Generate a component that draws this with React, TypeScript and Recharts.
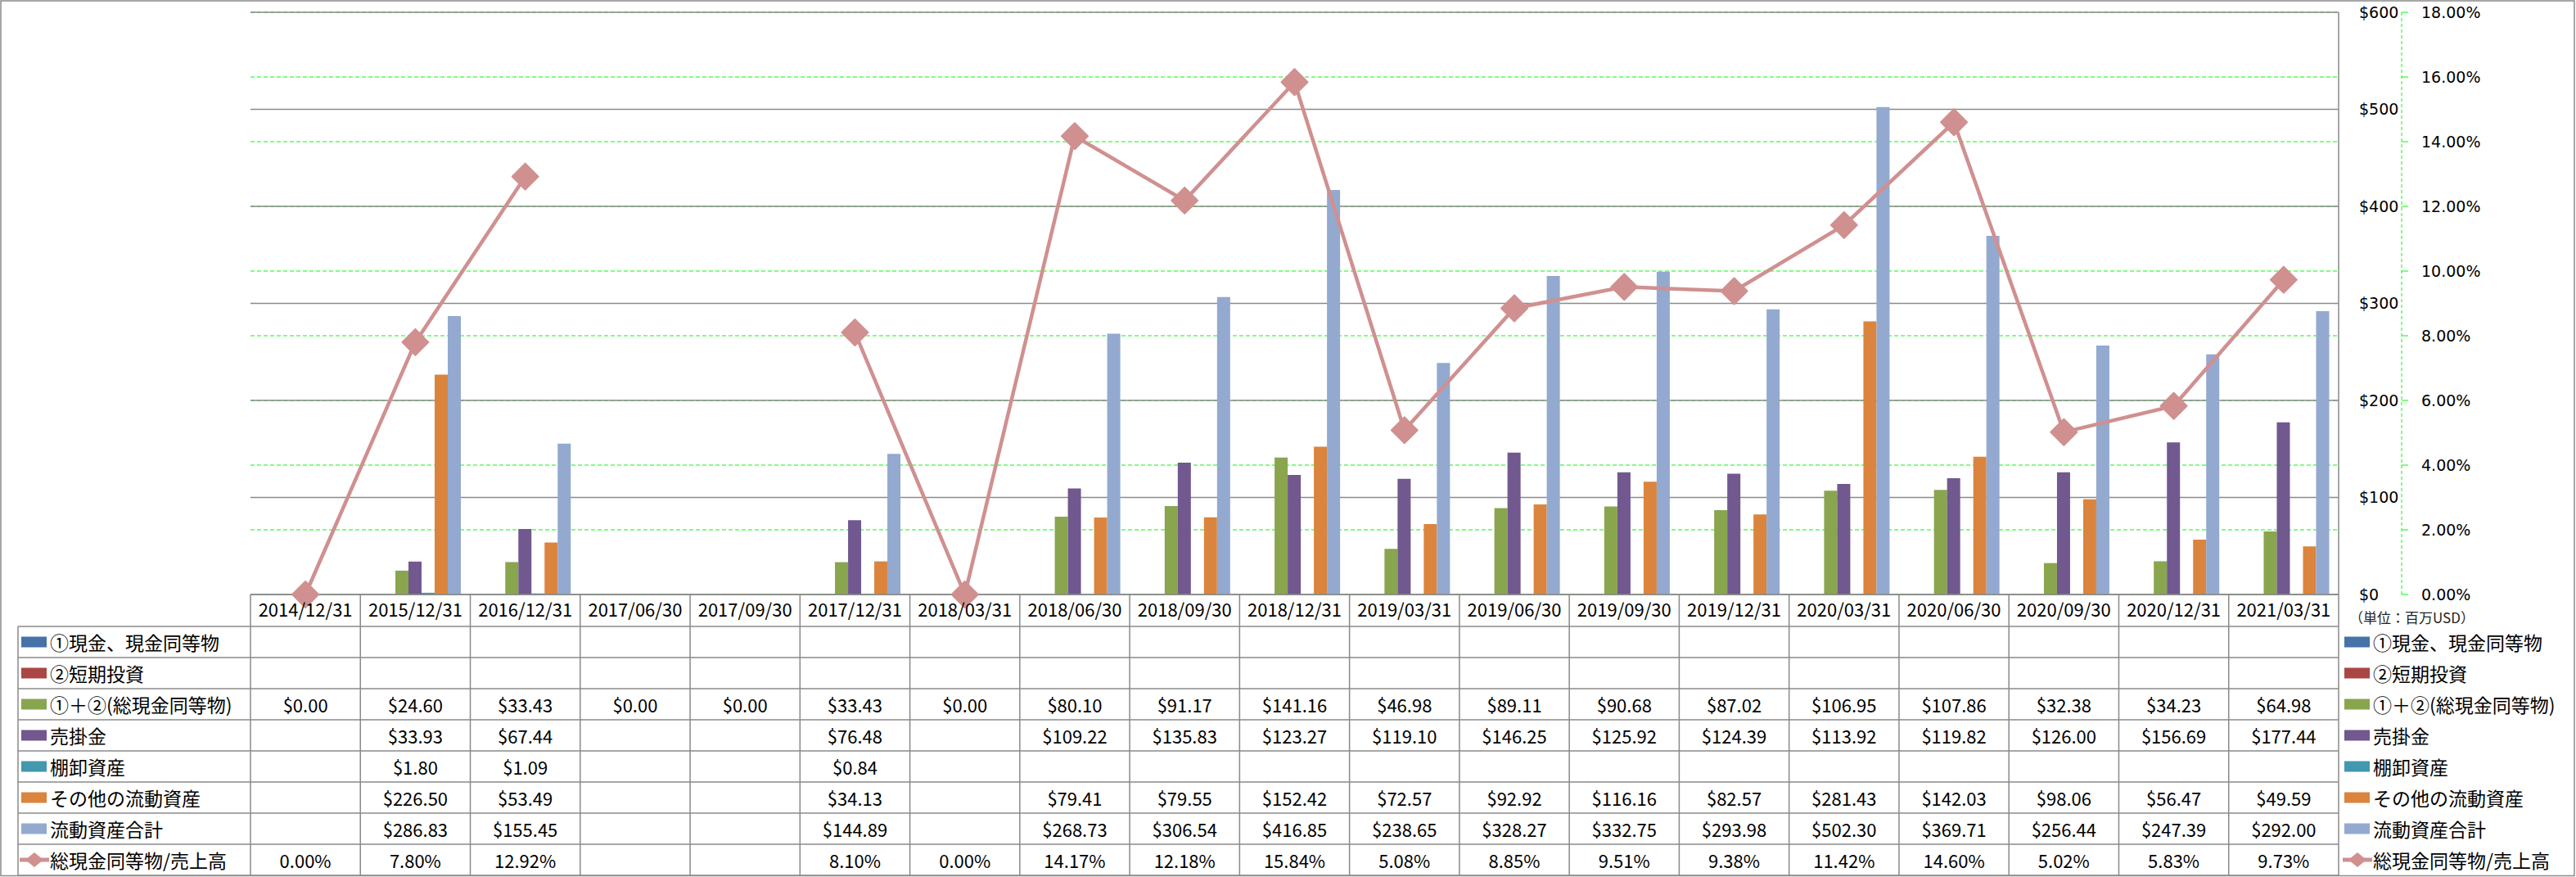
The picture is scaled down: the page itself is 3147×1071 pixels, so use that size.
import React from "react";
import { ComposedChart, Bar, Line, XAxis, YAxis, CartesianGrid } from "recharts";

// categories
const dates = [
  "2014/12/31", "2015/12/31", "2016/12/31", "2017/06/30", "2017/09/30",
  "2017/12/31", "2018/03/31", "2018/06/30", "2018/09/30", "2018/12/31",
  "2019/03/31", "2019/06/30", "2019/09/30", "2019/12/31", "2020/03/31",
  "2020/06/30", "2020/09/30", "2020/12/31", "2021/03/31",
];

// 単位: 百万USD
const cashItems = [null, null, null, null, null, null, null, null, null, null, null, null, null, null, null, null, null, null, null];
const shortTermInvest = [null, null, null, null, null, null, null, null, null, null, null, null, null, null, null, null, null, null, null];
const totalCash = [0.0, 24.6, 33.43, 0.0, 0.0, 33.43, 0.0, 80.1, 91.17, 141.16, 46.98, 89.11, 90.68, 87.02, 106.95, 107.86, 32.38, 34.23, 64.98];
const receivables = [null, 33.93, 67.44, null, null, 76.48, null, 109.22, 135.83, 123.27, 119.1, 146.25, 125.92, 124.39, 113.92, 119.82, 126.0, 156.69, 177.44];
const inventory = [null, 1.8, 1.09, null, null, 0.84, null, null, null, null, null, null, null, null, null, null, null, null, null];
const otherCurrent = [null, 226.5, 53.49, null, null, 34.13, null, 79.41, 79.55, 152.42, 72.57, 92.92, 116.16, 82.57, 281.43, 142.03, 98.06, 56.47, 49.59];
const totalCurrent = [null, 286.83, 155.45, null, null, 144.89, null, 268.73, 306.54, 416.85, 238.65, 328.27, 332.75, 293.98, 502.3, 369.71, 256.44, 247.39, 292.0];
// %
const cashToSales = [0.0, 7.8, 12.92, null, null, 8.1, 0.0, 14.17, 12.18, 15.84, 5.08, 8.85, 9.51, 9.38, 11.42, 14.6, 5.02, 5.83, 9.73];

const usdTicks = [0, 100, 200, 300, 400, 500, 600];
const pctTicks = [0, 2, 4, 6, 8, 10, 12, 14, 16, 18];

const series = [
  { key: "cash", name: "①現金、現金同等物", color: "#4572A7", values: cashItems },
  { key: "short", name: "②短期投資", color: "#AA4643", values: shortTermInvest },
  { key: "total", name: "①＋②(総現金同等物)", color: "#89A54E", values: totalCash },
  { key: "recv", name: "売掛金", color: "#71588F", values: receivables },
  { key: "inv", name: "棚卸資産", color: "#4198AF", values: inventory },
  { key: "other", name: "その他の流動資産", color: "#DB843D", values: otherCurrent },
  { key: "cur", name: "流動資産合計", color: "#93A9CF", values: totalCurrent },
];
const ratioName = "総現金同等物/売上高";
const unitLabel = "（単位：百万USD）";

// axis ids: "a" = USD (next to the plot), "b" = percent (outer)
const USD = "a";
const PCT = "b";

const W = 3147;
const H = 1071;
const PLOT_LEFT = 306;
const PLOT_RIGHT = 2857;
const PLOT_TOP = 15;
const BASE_Y = 726;
const HEADER_H = 39;
const ROW_H = 38;
const USD_AXIS_W = 77;
const COL_W = (PLOT_RIGHT - PLOT_LEFT) / dates.length;
const FONT = '"Noto Sans CJK JP", "Noto Sans", sans-serif';
const GRID = "#8a8a8a";
const GREEN = "#00ff00";
const LINE = "#D09090";

const data = dates.map((date, i) => {
  const row: any = { date, ratio: cashToSales[i] };
  series.forEach((s) => (row[s.key] = s.values[i]));
  return row;
});

const fmtUsd = (v: number | null) => (v == null ? "" : `$${v.toFixed(2)}`);
const fmtPct = (v: number | null) => (v == null ? "" : `${v.toFixed(2)}%`);
const usdTickFmt = (v: number) => `$${v}`;
const pctTickFmt = (v: number) => `${v.toFixed(2)}%`;
const usdDomain = [0, 600];
const pctDomain = [0, 18];
const axisTick = { fill: "#000", fontSize: 19, fontFamily: "DejaVu Sans" };
const grayAxis = { stroke: GRID, strokeWidth: 1.5 };
const greenAxis = { stroke: GREEN, strokeDasharray: "4 3" };
const greenTick = { stroke: GREEN };

function Diamond(props: any) {
  const { cx, cy, index } = props;
  if (cx == null || cy == null || props.value == null) return <g key={index} />;
  const r = 16;
  return (
    <path
      key={index}
      d={`M${cx},${cy - r}L${cx + r},${cy}L${cx},${cy + r}L${cx - r},${cy}Z`}
      fill={LINE}
      stroke={LINE}
      strokeWidth={2}
      strokeLinejoin="round"
    />
  );
}

function LegendMark({ x, y, color, line }: { x: number; y: number; color: string; line?: boolean }) {
  if (line) {
    return (
      <g>
        <line x1={x - 2} x2={x + 34} y1={y} y2={y} stroke={LINE} strokeWidth={5} />
        <path d={`M${x + 16},${y - 9}L${x + 27},${y}L${x + 16},${y + 9}L${x + 5},${y}Z`} fill={LINE} />
      </g>
    );
  }
  return <rect x={x} y={y - 6.5} width={31} height={13} fill={color} />;
}

function TableOverlay() {
  const rowTop = BASE_Y + HEADER_H;
  const rows = [
    ...series.map((s) => ({ name: s.name, color: s.color, cells: s.values.map(fmtUsd), line: false })),
    { name: ratioName, color: LINE, cells: cashToSales.map(fmtPct), line: true },
  ];
  const bottom = rowTop + rows.length * ROW_H;
  return (
    <svg width={W} height={H} style={{ position: "absolute", left: 0, top: 0, pointerEvents: "none" }}>
      <rect x={1} y={1} width={W - 3} height={H - 2.5} fill="none" stroke={GRID} strokeWidth={1.5} />
      {/* column separators */}
      {dates.map((_, i) => (
        <line key={`v${i}`} x1={PLOT_LEFT + i * COL_W} x2={PLOT_LEFT + i * COL_W} y1={BASE_Y} y2={bottom} stroke={GRID} strokeWidth={1.5} />
      ))}
      <line x1={PLOT_RIGHT} x2={PLOT_RIGHT} y1={BASE_Y} y2={bottom} stroke={GRID} strokeWidth={1.5} />
      <line x1={22} x2={22} y1={rowTop} y2={bottom} stroke={GRID} strokeWidth={1.5} />
      {rows.map((r, k) => (
        <line key={`h${k}`} x1={22} x2={PLOT_RIGHT} y1={rowTop + k * ROW_H} y2={rowTop + k * ROW_H} stroke={GRID} strokeWidth={1.5} />
      ))}
      <line x1={22} x2={PLOT_RIGHT} y1={bottom} y2={bottom} stroke={GRID} strokeWidth={1.5} />
      {rows.map((r, k) => {
        const cy = rowTop + k * ROW_H + ROW_H / 2;
        return (
          <g key={`r${k}`}>
            <LegendMark x={26} y={cy} color={r.color} line={r.line} />
            <text x={61} y={cy} dominantBaseline="central" fontSize={23} fontFamily={FONT} fill="#000">
              {r.name}
            </text>
            {r.cells.map((c, i) => (
              <text
                key={i}
                x={PLOT_LEFT + (i + 0.5) * COL_W}
                y={cy}
                dominantBaseline="central"
                textAnchor="middle"
                fontSize={22}
                fontFamily={FONT}
                fill="#000"
              >
                {c}
              </text>
            ))}
            <LegendMark x={2864} y={cy} color={r.color} line={r.line} />
            <text x={2899} y={cy} dominantBaseline="central" fontSize={23} fontFamily={FONT} fill="#000">
              {r.name}
            </text>
          </g>
        );
      })}
      <text x={2870} y={753} dominantBaseline="central" fontSize={17} fontFamily={FONT} fill="#222">
        {unitLabel}
      </text>
    </svg>
  );
}

export default function App() {
  return (
    <div style={{ position: "absolute", left: 0, top: 0, width: W, height: H, background: "#fff" }}>
      <ComposedChart
        width={W}
        height={H}
        data={data}
        margin={{ top: PLOT_TOP, left: PLOT_LEFT, right: 0, bottom: H - BASE_Y - HEADER_H }}
        barCategoryGap="8%"
        barGap={0}
      >
        <CartesianGrid yAxisId={PCT} vertical={false} stroke={GREEN} strokeDasharray="5 3" />
        <CartesianGrid yAxisId={USD} vertical={false} stroke={GRID} strokeWidth={1.5} />
        <XAxis
          dataKey="date"
          height={HEADER_H}
          interval={0}
          tickLine={false}
          tickSize={0}
          tickMargin={11}
          axisLine={grayAxis}
          tick={{ fill: "#000", fontSize: 22, fontFamily: FONT }}
        />
        <YAxis
          yAxisId={USD}
          orientation="right"
          width={USD_AXIS_W}
          domain={usdDomain}
          ticks={usdTicks}
          tickFormatter={usdTickFmt}
          tickLine={false}
          tickSize={0}
          tickMargin={25}
          axisLine={grayAxis}
          tick={axisTick}
        />
        <YAxis
          yAxisId={PCT}
          orientation="right"
          width={W - PLOT_RIGHT - USD_AXIS_W}
          domain={pctDomain}
          ticks={pctTicks}
          tickFormatter={pctTickFmt}
          tickSize={8}
          tickMargin={16}
          axisLine={greenAxis}
          tickLine={greenTick}
          tick={axisTick}
        />
        {series.map((s) => (
          <Bar key={s.key} dataKey={s.key} name={s.name} yAxisId={USD} fill={s.color} isAnimationActive={false} />
        ))}
        <Line
          dataKey="ratio"
          name={ratioName}
          yAxisId={PCT}
          stroke={LINE}
          strokeWidth={4.5}
          dot={Diamond}
          activeDot={false}
          connectNulls={false}
          isAnimationActive={false}
        />
      </ComposedChart>
      <TableOverlay />
    </div>
  );
}
